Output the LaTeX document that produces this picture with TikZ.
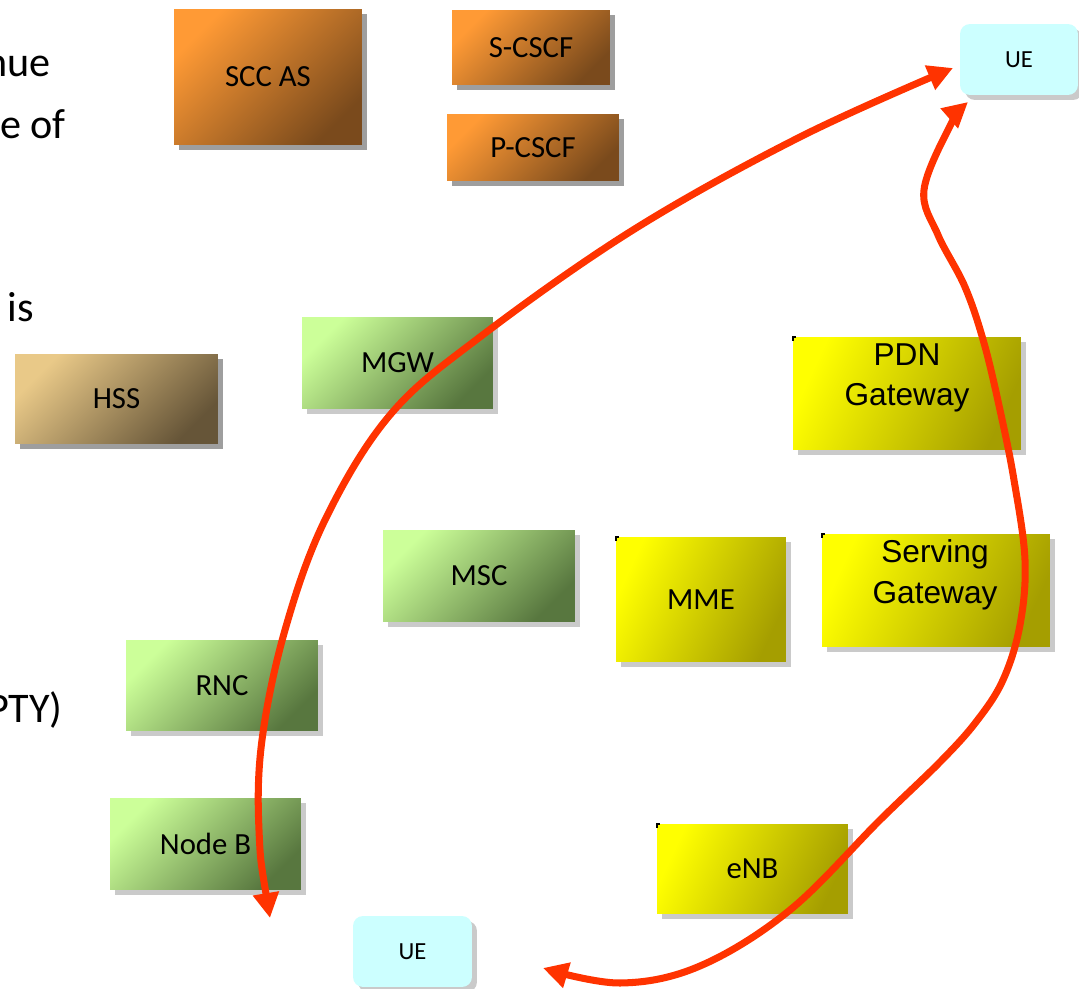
\documentclass[tikz,border=0pt]{standalone}
\usepackage{fontspec}
\setmainfont{Carlito}
\newfontfamily\arialfont{Liberation Sans}
\usetikzlibrary{arrows.meta, shadows}
\definecolor{imslight}{HTML}{FF9A35}
\definecolor{imsdark}{HTML}{7A4A1C}
\definecolor{hsslight}{HTML}{E9C988}
\definecolor{hssdark}{HTML}{665538}
\definecolor{cslight}{HTML}{CCFF99}
\definecolor{csdark}{HTML}{58773F}
\definecolor{epclight}{HTML}{FFFF00}
\definecolor{epcdark}{HTML}{A59E00}
\definecolor{uefill}{HTML}{CCFFFF}
\definecolor{flowred}{HTML}{FF3300}
\begin{document}
\begin{tikzpicture}[x = 0.02cm, y = -0.02cm,
  netbox/.style = {inner sep = 0pt, font = \fontsize{17.5}{21}\selectfont},
  hardshadow/.style = {drop shadow = {shadow xshift = 0.1cm, shadow yshift = -0.1cm, fill = black!38, opacity = 1}},
  softshadow/.style = {drop shadow = {shadow xshift = 0.1cm, shadow yshift = -0.1cm, fill = black!60, opacity = 0.35}},
  imsbox/.style = {netbox, top color = imslight, bottom color = imsdark, shading angle = 45, hardshadow},
  hssbox/.style = {netbox, top color = hsslight, bottom color = hssdark, shading angle = 45, hardshadow},
  csbox/.style = {netbox, top color = cslight, bottom color = csdark, shading angle = 45, softshadow},
  epcbox/.style = {netbox, top color = epclight, bottom color = epcdark, shading angle = 65, softshadow},
  uebox/.style = {inner sep = 0pt, fill = uefill, rounded corners = 0.2cm, font = \fontsize{14}{17}\selectfont, softshadow},
  gwlabel/.style = {inner sep = 0pt, align = center, font = \arialfont\fontsize{18}{23}\selectfont},
  bodytext/.style = {anchor = base east, inner sep = 0pt, font = \fontsize{24}{29}\selectfont},
  flow/.style = {{Triangle[length = 0.5cm, width = 0.5cm]}-{Triangle[length = 0.5cm, width = 0.5cm]}, flowred, line width = 4pt}]
\useasboundingbox (0,0) rectangle (1079,989);
\node[bodytext] (txtnue) at (51,77) {nue};
\node[bodytext] (txtof) at (66,139) {e of};
\node[bodytext] (txtis) at (34,322) {is};
\node[bodytext] (txtpty) at (63,723) {PTY)};
\node[imsbox, minimum width = 3.76cm, minimum height = 2.72cm] (sccas) at (268,77) {SCC AS};
\node[imsbox, minimum width = 3.16cm, minimum height = 1.5cm] (scscf) at (531,47.5) {S-CSCF};
\node[imsbox, minimum width = 3.44cm, minimum height = 1.34cm] (pcscf) at (533,147.5) {P-CSCF};
\node[uebox, minimum width = 2.36cm, minimum height = 1.42cm] (uetop) at (1019,59.5) {UE};
\node[hssbox, minimum width = 4.06cm, minimum height = 1.8cm] (hss) at (116.5,399) {HSS};
\node[csbox, minimum width = 3.82cm, minimum height = 1.84cm] (mgw) at (397.5,363) {MGW};
\node[epcbox, minimum width = 4.56cm, minimum height = 2.26cm] (pdn) at (907,393.5) {};
\node[gwlabel] (pdnlabel) at (907,378) {PDN\\Gateway};
\node[csbox, minimum width = 3.84cm, minimum height = 1.84cm] (msc) at (479,576) {MSC};
\node[epcbox, minimum width = 3.4cm, minimum height = 2.5cm] (mme) at (701,599.5) {MME};
\node[epcbox, minimum width = 4.56cm, minimum height = 2.26cm] (sgw) at (936,590.5) {};
\node[gwlabel] (sgwlabel) at (935,575) {Serving\\Gateway};
\node[csbox, minimum width = 3.84cm, minimum height = 1.82cm] (rnc) at (222,685.5) {RNC};
\node[csbox, minimum width = 3.82cm, minimum height = 1.84cm] (nodeb) at (205.5,844) {Node B};
\node[epcbox, minimum width = 3.82cm, minimum height = 1.8cm] (enb) at (752.5,869) {eNB};
\node[uebox, minimum width = 2.38cm, minimum height = 1.42cm] (uebottom) at (412.5,951.5) {UE};
\foreach \n in {pdn, sgw, mme, enb}
  \draw[line width = 1pt] ([yshift = -0.08cm]\n.north west) -- (\n.north west) -- ([xshift = 0.06cm]\n.north west);
\coordinate (csend) at (270,918);
\coordinate (cstip) at (953,68);
\coordinate (psend) at (543,968);
\coordinate (pstip) at (968,102);
\draw[flow] plot[smooth, tension = 0.6] coordinates {(csend) (259,830) (262,740) (285,630) (325,520) (390,415) (480,337) (633,230) (800,137) (cstip)};
\draw[flow] plot[smooth, tension = 0.6] coordinates {(pstip) (950,126) (924,190) (938,235) (965,287) (984,343) (1000,410) (1014,480) (1025,560) (1020,625) (1003,680) (976,722) (940,762) (880,820) (790,910) (700,966) (620,983) (psend)};
\end{tikzpicture}
\end{document}
